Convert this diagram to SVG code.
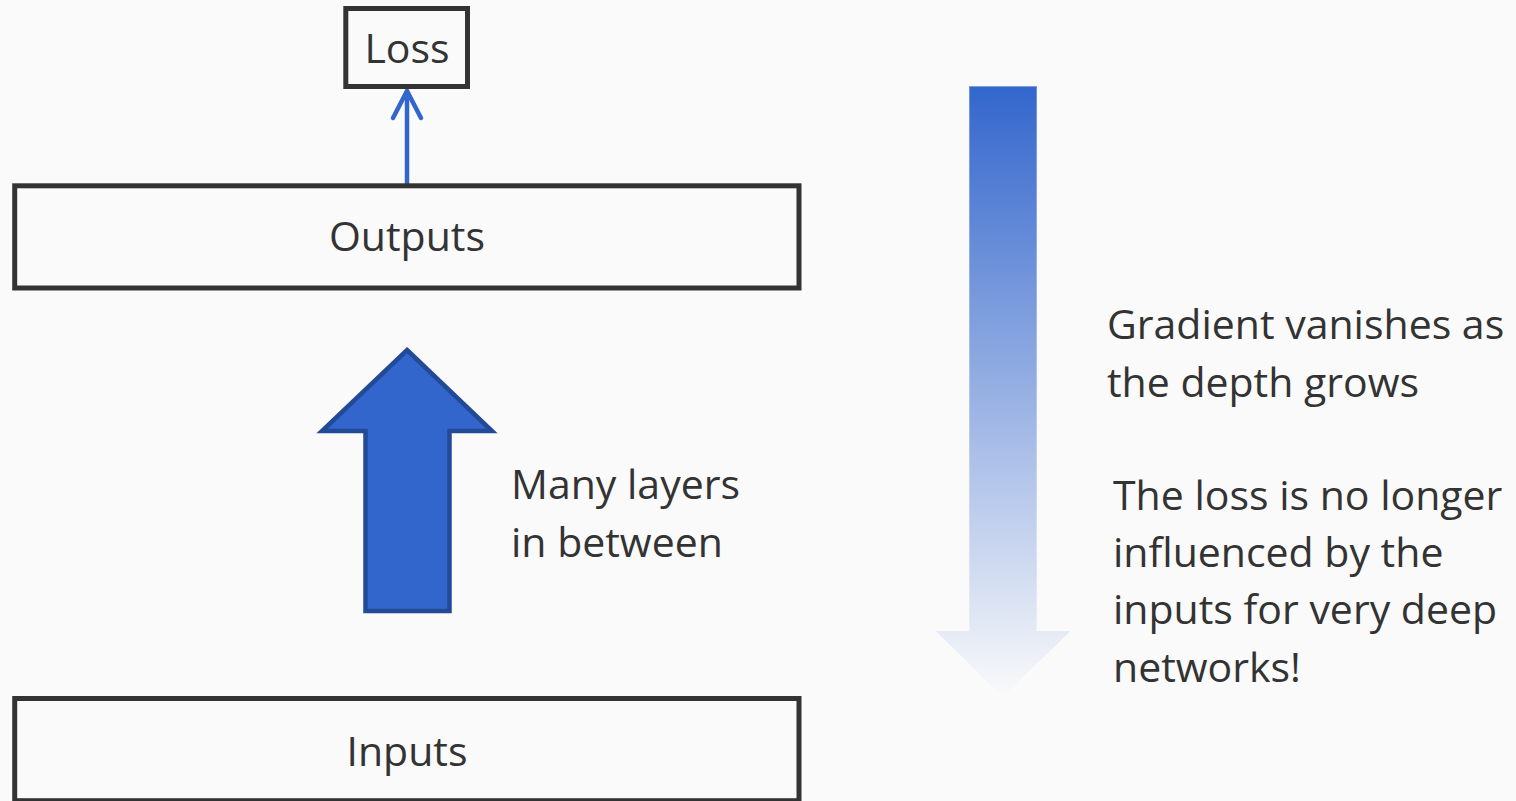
<svg xmlns="http://www.w3.org/2000/svg" width="1516" height="801" viewBox="0 0 1516 801">
  <style>
    .box { fill: #fafafa; stroke: #333333; stroke-width: 5; }
    .label { font-family: "Open Sans", "Noto Sans", sans-serif; font-size: 41px; fill: #333333; }
    .note { font-family: "Open Sans", "Noto Sans", sans-serif; font-size: 41px; fill: #333333; }
    .link { stroke: #3366cc; stroke-width: 4.5; fill: none; }
  </style>
  <defs>
    <marker id="chevron" markerUnits="userSpaceOnUse" markerWidth="40" markerHeight="40" viewBox="-30 -20 40 40" refX="0" refY="0" orient="auto" overflow="visible">
      <path d="M -27,-14 L 0,0 L -27,14" fill="none" stroke="#3366cc" stroke-width="4.5" stroke-linecap="round" stroke-linejoin="miter"/>
    </marker>
    <linearGradient id="fade" x1="0" y1="86" x2="0" y2="697" gradientUnits="userSpaceOnUse">
      <stop offset="0" stop-color="#3366cc" stop-opacity="1"/>
      <stop offset="1" stop-color="#3366cc" stop-opacity="0"/>
    </linearGradient>
  </defs>

  <rect x="0" y="0" width="1516" height="801" fill="#fafafa"/>

  <!-- connectors -->
  <g id="connectors">
    <path class="link" d="M 407,185 L 407,91" marker-end="url(#chevron)"/>
  </g>

  <g id="loss">
    <rect class="box" x="345.8" y="8.5" width="121.7" height="78"/>
    <text class="label" x="407" y="63" text-anchor="middle" font-size="43">Loss</text>
  </g>

  <g id="outputs">
    <rect class="box" x="14.7" y="185.8" width="784.3" height="102.2"/>
    <text class="label" x="407" y="251" text-anchor="middle">Outputs</text>
  </g>

  <g id="inputs">
    <rect class="box" x="14.7" y="698.5" width="784.3" height="102.2"/>
    <text class="label" x="407" y="766" text-anchor="middle">Inputs</text>
  </g>

  <!-- forward pass through the stacked layers -->
  <g id="forward-arrow">
    <polygon points="407,350 492,431 449.5,431 449.5,611 365.5,611 365.5,431 322,431" fill="#3366cc" stroke="#234a96" stroke-width="4.5" stroke-linejoin="miter"/>
  </g>

  <g id="layers-label">
    <text class="label" x="511" y="499">Many layers</text>
    <text class="label" x="511" y="557">in between</text>
  </g>

  <!-- fading backward gradient -->
  <g id="gradient-arrow">
    <polygon points="969.3,86 1036.7,86 1036.7,631 1070.7,631 1002.7,697 935.7,631 969.3,631" fill="url(#fade)"/>
    <line x1="969.3" y1="86.5" x2="1036.7" y2="86.5" stroke="#7a9ee0" stroke-width="1"/>
  </g>

  <g id="gradient-note">
    <text class="note" x="1107" y="339">Gradient vanishes as</text>
    <text class="note" x="1107" y="397">the depth grows</text>
  </g>

  <g id="loss-note">
    <text class="note" x="1113" y="510">The loss is no longer</text>
    <text class="note" x="1113" y="567">influenced by the</text>
    <text class="note" x="1113" y="624">inputs for very deep</text>
    <text class="note" x="1113" y="682">networks!</text>
  </g>
</svg>
